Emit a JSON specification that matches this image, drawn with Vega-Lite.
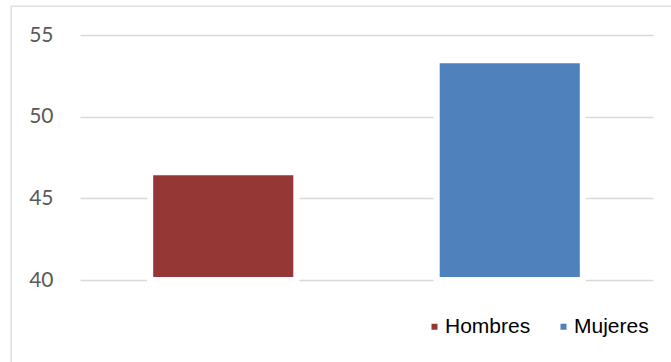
{
  "$schema": "https://vega.github.io/schema/vega-lite/v6.json",
  "width": 664,
  "height": 360,
  "autosize": {"type": "none"},
  "padding": {"left": 11, "top": 6, "right": -4, "bottom": -4},
  "background": "white",
  "config": {
    "view": {"stroke": "#d9d9d9", "strokeWidth": 1.3}
  },
  "data": {
    "values": [
      {"sexo": "Hombres", "valor": 46.6},
      {"sexo": "Mujeres", "valor": 53.45}
    ]
  },
  "mark": {"type": "bar", "stroke": "white", "strokeWidth": 6},
  "encoding": {
    "x": {
      "field": "sexo",
      "type": "nominal",
      "sort": ["Hombres", "Mujeres"],
      "scale": {"range": [69, 642], "paddingInner": 0.49, "paddingOuter": 0.245},
      "axis": null
    },
    "y": {
      "field": "valor",
      "type": "quantitative",
      "scale": {"domain": [40, 55], "range": [274, 29], "nice": false, "zero": false},
      "axis": {
        "values": [40, 45, 50, 55],
        "title": null,
        "grid": true,
        "gridColor": "#d9d9d9",
        "gridWidth": 1.3,
        "domain": false,
        "ticks": false,
        "tickSize": 0,
        "labelPadding": -42,
        "labelFont": "Lato",
        "labelFontSize": 21,
        "labelColor": "#595959"
      }
    },
    "y2": {"datum": 40},
    "color": {
      "field": "sexo",
      "type": "nominal",
      "scale": {"domain": ["Hombres", "Mujeres"], "range": ["#953735", "#4f81bd"]},
      "legend": {
        "title": null,
        "orient": "none",
        "direction": "horizontal",
        "legendX": 413,
        "legendY": 310,
        "symbolType": "square",
        "symbolSize": 36,
        "symbolStrokeWidth": 0,
        "labelFont": "Liberation Sans",
        "labelFontSize": 21,
        "labelColor": "#000000",
        "labelOffset": 0,
        "columnPadding": 22,
        "padding": 0
      }
    }
  }
}
